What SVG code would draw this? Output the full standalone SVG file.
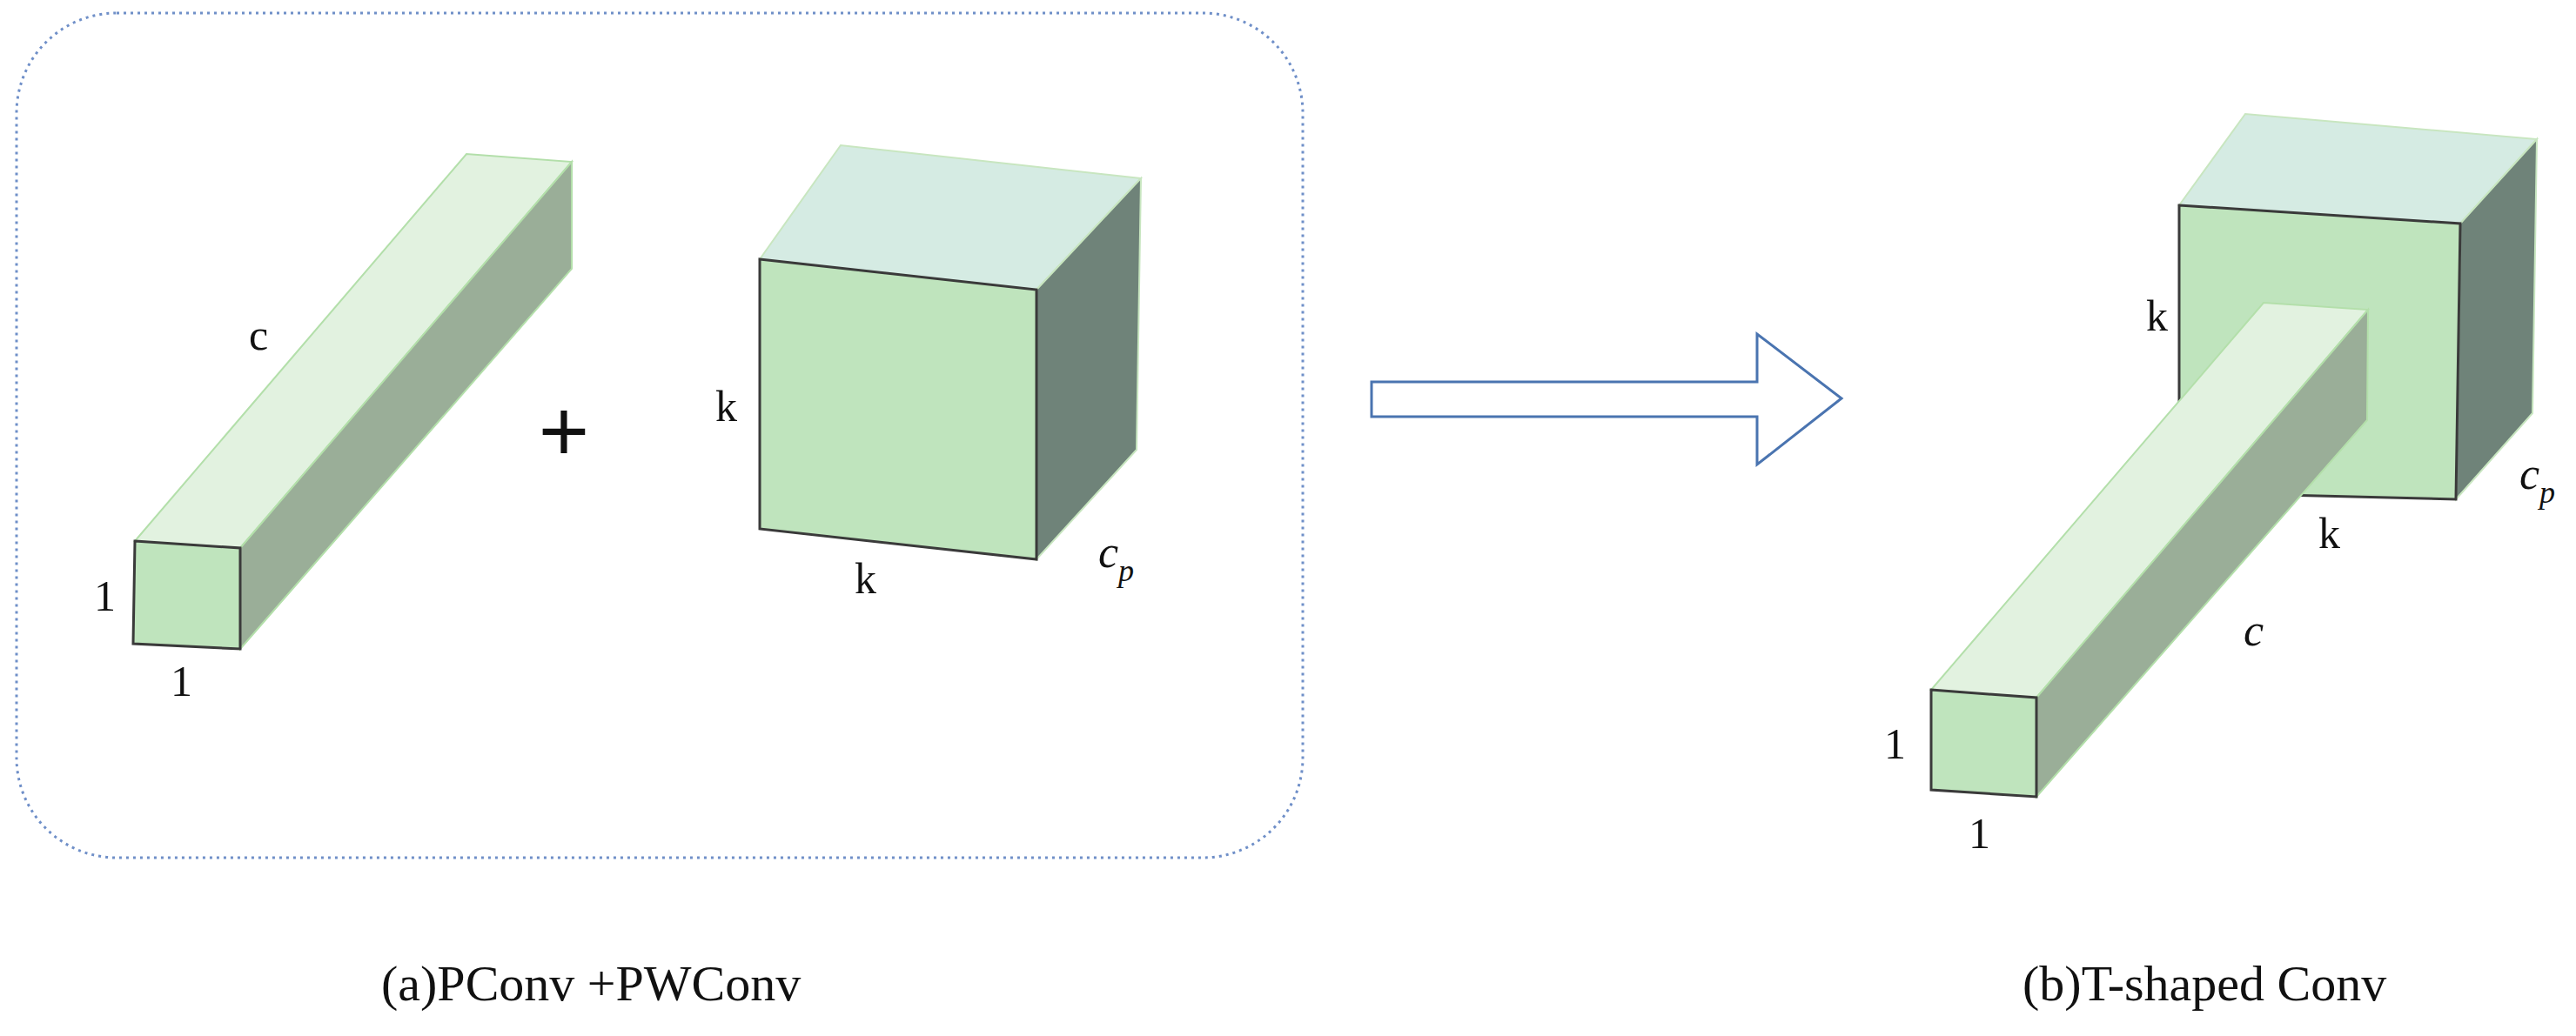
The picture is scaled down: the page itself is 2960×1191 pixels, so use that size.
<svg xmlns="http://www.w3.org/2000/svg" width="2960" height="1191" viewBox="0 0 2960 1191">
<style>
.front{fill:#bfe4bd;stroke:#3a3a3a;stroke-width:3}
.btop{fill:#e2f2e0;stroke:#b3dfaa;stroke-width:2}
.bside{fill:#9aae98;stroke:#b3dfaa;stroke-width:2}
.ctop{fill:#d5ebe3;stroke:#c8e6c0;stroke-width:2}
.cside{fill:#6f8379;stroke:#c8e6c0;stroke-width:2}
.t{font-family:"Liberation Serif",serif;font-size:50px;fill:#111}
.ti{font-family:"Liberation Serif",serif;font-size:52px;font-style:italic;fill:#111}
.cap{font-family:"Liberation Serif",serif;font-size:58px;fill:#111}
</style>
<rect width="2960" height="1191" fill="#fff"/>
<g id="frame"><rect x="19" y="15" width="1478" height="971" rx="115" fill="none" stroke="#6f8fc8" stroke-width="3" stroke-dasharray="3,5"/></g>
<g id="bar-a">
<polygon class="btop" points="155,622 536,177 657,186 276,630"/>
<polygon class="bside" points="276,630 657,186 657,309 276,746"/>
<polygon class="front" points="155,622 276,630 276,746 153,740"/>
<text class="t" x="286" y="402">c</text>
<text class="t" x="108" y="702">1</text>
<text class="t" x="196" y="800">1</text>
</g>
<g id="plus"><text x="648" y="530" font-family="Liberation Sans,sans-serif" font-size="100" text-anchor="middle" fill="#111">+</text></g>
<g id="cube-a">
<polygon class="ctop" points="873,298 966,167 1311,205 1191,333"/>
<polygon class="cside" points="1191,333 1311,205 1306,517 1191,643"/>
<polygon class="front" points="873,298 1191,333 1191,643 873,608"/>
<text class="t" x="822" y="484">k</text>
<text class="t" x="982" y="682">k</text>
<text class="ti" x="1262" y="652">c<tspan font-size="36" dy="16">p</tspan></text>
</g>
<g id="arrow"><polygon points="1576,439 2019,439 2019,384 2116,458 2019,534 2019,479 1576,479" fill="#fff" stroke="#4a74b0" stroke-width="3"/></g>
<g id="tconv">
<polygon class="ctop" points="2504,236 2580,131 2915,160 2827,257"/>
<polygon class="cside" points="2827,257 2915,160 2910,475 2822,574"/>
<polygon class="front" points="2504,236 2827,257 2822,574 2504,566"/>
<polygon class="btop" points="2219,793 2601,348 2721,356 2340,802"/>
<polygon class="bside" points="2340,802 2721,356 2720,483 2340,916"/>
<polygon class="front" points="2219,793 2340,802 2340,916 2219,908"/>
<text class="t" x="2466" y="380">k</text>
<text class="t" x="2664" y="630">k</text>
<text class="ti" x="2578" y="742">c</text>
<text class="ti" x="2895" y="562">c<tspan font-size="36" dy="16">p</tspan></text>
<text class="t" x="2165" y="872">1</text>
<text class="t" x="2262" y="975">1</text>
</g>
<g id="captions">
<text class="cap" x="438" y="1150">(a)PConv +PWConv</text>
<text class="cap" x="2324" y="1150">(b)T-shaped Conv</text>
</g>
</svg>
